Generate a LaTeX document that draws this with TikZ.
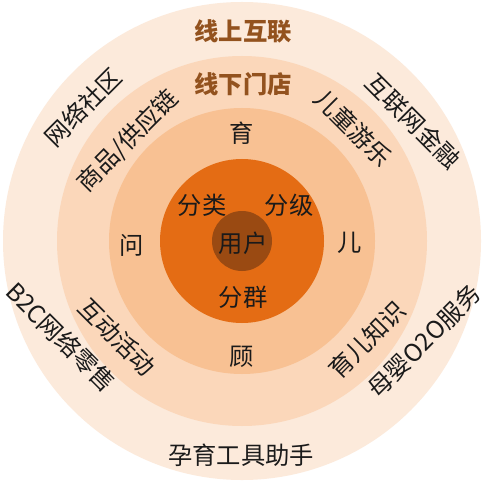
\documentclass[tikz,border=0pt]{standalone}
\usepackage{fontspec}
\setmainfont{Noto Sans CJK SC}
\definecolor{ringA}{HTML}{FCEADB}
\definecolor{ringB}{HTML}{FBD7BA}
\definecolor{ringC}{HTML}{F8C193}
\definecolor{ringD}{HTML}{E46C14}
\definecolor{ringE}{HTML}{9A4A12}
\definecolor{headbrown}{HTML}{93521E}
\definecolor{txt}{HTML}{1A1A1A}
\tikzset{
  lbl/.style={font=\fontsize{24.3bp}{28bp}\selectfont, text=txt, inner sep=0pt},
  head/.style={font=\fontsize{24.3bp}{28bp}\selectfont\bfseries, text=headbrown, inner sep=0pt},
  ring/.style={draw=none}
}
\begin{document}
\begin{tikzpicture}[x=1bp,y=-1bp]
\useasboundingbox (0,0) rectangle (483,484);
\fill[white] (0,0) rectangle (483,484);
\coordinate (c) at (242,241);
\fill[ringA] (c) circle[radius=239];
\fill[ringB] (c) circle[radius=185];
\fill[ringC] (c) circle[radius=133];
\fill[ringD] (c) circle[radius=82];
\fill[ringE] (c) circle[radius=30];
% headings
\node[head] (on) at (243,31) {线上互联};
\node[head] (off) at (243,84) {线下门店};
% outer ring
\node[lbl, rotate=45] (wl) at (83,107) {网络社区};
\node[lbl, rotate=-45] (jr) at (413,121) {互联网金融};
\node[lbl, rotate=-45] (b2c) at (61,337) {B2C网络零售};
\node[lbl, rotate=45] (o2o) at (424,341) {母婴O2O服务};
\node[lbl] (gj) at (241,455) {孕育工具助手};
% second ring
\node[lbl, rotate=45] (sp) at (128,141) {商品/供应链};
\node[lbl, rotate=-45] (et) at (353,128) {儿童游乐};
\node[lbl, rotate=-45] (hd) at (117,337) {互动活动};
\node[lbl, rotate=45] (ze) at (367,340) {育儿知识};
% third ring
\node[lbl] (yu) at (242,133) {育};
\node[lbl] (wen) at (132,245) {问};
\node[lbl] (er) at (350,243) {儿};
\node[lbl] (gu) at (242,357) {顾};
% inner
\node[lbl] (fl) at (202,205) {分类};
\node[lbl] (fj) at (289,205) {分级};
\node[lbl] (fq) at (243,297) {分群};
\node[lbl] (yh) at (243,243) {用户};
\end{tikzpicture}
\end{document}
